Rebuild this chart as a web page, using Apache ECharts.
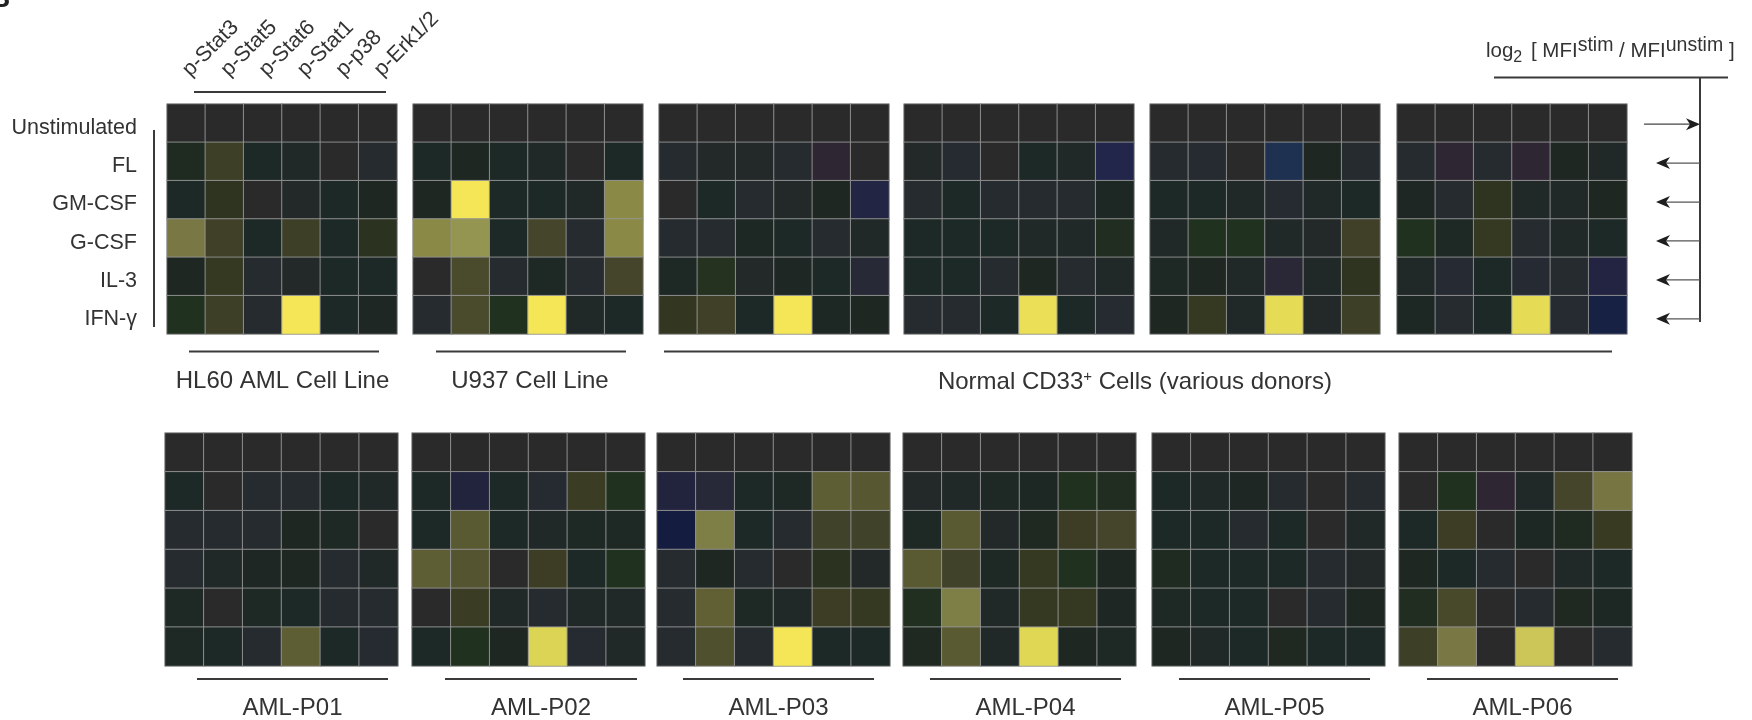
<!DOCTYPE html>
<html>
<head>
<meta charset="utf-8">
<script src="https://cdn.jsdelivr.net/npm/echarts@6/dist/echarts.min.js"></script>
<style>
  html, body { margin: 0; padding: 0; background: #ffffff; }
  #chart { width: 1752px; height: 720px; }
</style>
</head>
<body>
<div id="chart"></div>
<script>
// Phospho-protein readouts (columns) and stimulation conditions (rows)
const phosphoproteins = ['p-Stat3', 'p-Stat5', 'p-Stat6', 'p-Stat1', 'p-p38', 'p-Erk1/2'];
const stimuli = ['Unstimulated', 'FL', 'GM-CSF', 'G-CSF', 'IL-3', 'IFN-\u03b3'];

// log2 [MFI stim / MFI unstim], one row per stimulus, one column per readout
const hl60 = [
  [0, 0, 0, 0, 0, 0],
  [0.6, 1.35, 0.25, 0.2, 0, -0.25],
  [0.25, 1.0, 0, 0.15, 0.25, 0.5],
  [2.65, 1.4, 0.3, 1.35, 0.25, 0.95],
  [0.5, 1.15, -0.25, 0.15, 0.25, 0.25],
  [0.75, 1.35, -0.25, 4.0, 0.25, 0.45]
];
const u937 = [
  [0, 0, 0, 0, 0, 0],
  [0.25, 0.5, 0.25, 0.2, 0, 0.3],
  [0.5, 4.0, 0.25, 0.3, 0.2, 3.0],
  [3.0, 3.25, 0.25, 1.55, -0.25, 3.0],
  [0, 1.7, -0.25, 0.4, -0.25, 1.55],
  [-0.25, 1.7, 0.75, 4.0, 0.2, 0.3]
];
const normalDonor1 = [
  [0, 0, 0, 0, 0, 0],
  [-0.25, 0.15, 0.15, -0.25, -0.75, 0],
  [0, 0.25, -0.25, 0.15, 0.5, -1.15],
  [-0.25, -0.25, 0.35, 0.25, -0.25, 0.2],
  [0.4, 0.8, 0.15, 0.45, 0.25, -0.45],
  [1.1, 1.4, 0.25, 4.0, 0.35, 0.5]
];
const normalDonor2 = [
  [0, 0, 0, 0, 0, 0],
  [0.15, -0.3, 0, 0.25, 0.2, -1.25],
  [-0.25, 0.25, -0.25, -0.25, -0.25, 0.35],
  [0.3, 0.25, 0.3, 0.2, 0.2, 0.65],
  [0.3, 0.25, -0.25, 0.5, -0.25, 0.2],
  [-0.25, -0.25, 0.25, 3.9, 0.3, -0.3]
];
const normalDonor3 = [
  [0, 0, 0, 0, 0, 0],
  [-0.25, -0.3, 0, -1.5, 0.5, -0.25],
  [0.25, 0.25, 0.2, -0.3, 0.2, 0.3],
  [0.2, 0.75, 0.75, 0.2, 0.15, 1.4],
  [0.4, 0.5, 0.2, -0.6, 0.2, 1.0],
  [0.5, 1.15, 0.2, 3.85, 0.15, 1.35]
];
const normalDonor4 = [
  [0, 0, 0, 0, 0, 0],
  [-0.25, -0.75, -0.25, -0.75, 0.5, 0.2],
  [0.45, -0.25, 1.0, 0.2, 0.2, 0.5],
  [0.75, 0.4, 1.15, -0.25, 0.2, 0.25],
  [0.2, -0.35, 0.25, -0.35, -0.25, -1.1],
  [0.35, -0.25, 0.25, 3.85, -0.3, -1.9]
];
const amlP01 = [
  [0, 0, 0, 0, 0, 0],
  [0.25, 0, -0.25, -0.25, 0.25, 0.2],
  [-0.25, -0.25, -0.25, 0.5, 0.4, 0],
  [-0.25, 0.2, 0.45, 0.5, -0.25, 0.2],
  [0.4, 0, 0.4, 0.25, -0.25, -0.25],
  [0.4, 0.25, -0.25, 2.1, 0.3, -0.3]
];
const amlP02 = [
  [0, 0, 0, 0, 0, 0],
  [0.3, -1.0, 0.25, -0.3, 1.25, 0.75],
  [0.3, 2.0, 0.3, 0.2, 0.4, 0.4],
  [2.1, 1.9, 0, 1.3, 0.25, 0.75],
  [0, 1.25, 0.2, -0.25, 0.2, 0.2],
  [0.3, 0.75, 0.5, 3.75, -0.3, 0.2]
];
const amlP03 = [
  [0, 0, 0, 0, 0, 0],
  [-1.0, -0.5, 0.25, 0.4, 2.1, 1.95],
  [-2.0, 2.75, 0.25, -0.25, 1.45, 1.45],
  [-0.25, 0.5, -0.25, 0, 0.95, 0.15],
  [-0.25, 2.15, 0.4, 0.2, 1.3, 1.15],
  [-0.25, 1.8, -0.25, 4.0, 0.25, 0.25]
];
const amlP04 = [
  [0, 0, 0, 0, 0, 0],
  [0.15, 0.2, 0.4, 0.35, 0.75, 0.65],
  [0.4, 2.0, 0.15, 0.55, 1.3, 1.55],
  [2.0, 1.45, 0.4, 1.15, 0.75, 0.5],
  [0.7, 2.75, 0.2, 1.15, 1.15, 0.45],
  [0.55, 2.0, 0.2, 3.8, 0.5, 0.4]
];
const amlP05 = [
  [0, 0, 0, 0, 0, 0],
  [0.3, 0.2, 0.45, -0.25, 0, -0.25],
  [0.3, 0.3, -0.25, 0.3, 0, 0.2],
  [0.6, 0.3, 0.25, 0.25, -0.25, 0.15],
  [0.4, 0.3, 0.25, 0, -0.25, 0.5],
  [0.5, 0.2, 0.3, 0.55, 0.3, 0.25]
];
const amlP06 = [
  [0, 0, 0, 0, 0, 0],
  [0, 0.75, -0.75, 0.2, 1.55, 2.6],
  [0.3, 1.3, 0, 0.35, 0.6, 1.2],
  [0.5, 0.25, -0.25, 0, 0.2, 0.3],
  [0.65, 1.65, 0, -0.25, 0.55, 0.35],
  [1.35, 2.65, 0, 3.6, 0, -0.25]
];

const topRowPanels = [hl60, u937, normalDonor1, normalDonor2, normalDonor3, normalDonor4];
const bottomRowPanels = [amlP01, amlP02, amlP03, amlP04, amlP05, amlP06];
const topGroupLabels = ['HL60 AML Cell Line', 'U937 Cell Line', 'Normal CD33{sup|+} Cells (various donors)'];
const patientLabels = ['AML-P01', 'AML-P02', 'AML-P03', 'AML-P04', 'AML-P05', 'AML-P06'];

// ---- layout ----
const FONT = '"Liberation Sans", Arial, Helvetica, sans-serif';
const INK = '#333333';
const topLefts = [167, 413, 659, 904, 1150, 1397];
const topY = 104, topSize = 230;
const botLefts = [165, 412, 657, 903, 1152, 1399];
const botY = 433, botSize = 233;

// diverging palette sampled every 0.25 log2 units from -2 to +4
const palette = [
  '#141d40', '#192648', '#1f3150', '#22264a', '#22233c', '#2f2634', '#272838', '#262b2f',
  '#2a2a2a',
  '#1d2927', '#1e2722', '#21311f', '#2e3420', '#3a3c23', '#42432a', '#4c4d2c', '#5a5a32',
  '#656437', '#72703f', '#7e7e47', '#8a8a46', '#949550', '#c0bc58', '#dbd455', '#f4e656'
];

const panels = topRowPanels.concat(bottomRowPanels);
const grids = [], xAxes = [], yAxes = [], series = [];

panels.forEach(function (panel, i) {
  const isTop = i < 6;
  const k = i % 6;
  grids.push({
    left: isTop ? topLefts[k] : botLefts[k],
    top: isTop ? topY : botY,
    width: isTop ? topSize : botSize,
    height: isTop ? topSize : botSize,
    outerBoundsMode: 'none',
    containLabel: false
  });
  const showLabels = i === 0;
  xAxes.push({
    type: 'category', gridIndex: i, data: phosphoproteins, position: 'top',
    axisLine: { show: false }, axisTick: { show: false }, splitLine: { show: false },
    axisLabel: {
      show: showLabels, interval: 0, rotate: -45, margin: 31,
      align: 'left', verticalAlign: 'middle',
      fontSize: 21.5, fontFamily: FONT, color: INK
    }
  });
  yAxes.push({
    type: 'category', gridIndex: i, data: stimuli, inverse: true,
    axisLine: { show: false }, axisTick: { show: false }, splitLine: { show: false },
    axisLabel: {
      show: showLabels, interval: 0, margin: 30,
      formatter: function (v) { return '{r|' + v + '}'; },
      rich: { r: { fontSize: 21.5, fontFamily: FONT, color: INK, padding: [9, 0, 0, 0] } }
    }
  });
  const data = [];
  panel.forEach(function (row, r) {
    row.forEach(function (v, c) { data.push([c, r, v]); });
  });
  series.push({
    type: 'heatmap', xAxisIndex: i, yAxisIndex: i, data: data,
    itemStyle: { borderColor: 'rgba(150,150,150,0.9)', borderWidth: 1 },
    emphasis: { disabled: true }, progressive: 0, silent: true
  });
});

// ---- annotation graphics ----
const g = [];
function hline(x1, x2, y, w) {
  g.push({ type: 'line', shape: { x1: x1, y1: y, x2: x2, y2: y }, style: { stroke: '#3a3a3a', lineWidth: w || 2 }, silent: true });
}
function vline(x, y1, y2, w) {
  g.push({ type: 'line', shape: { x1: x, y1: y1, x2: x, y2: y2 }, style: { stroke: '#3a3a3a', lineWidth: w || 2 }, silent: true });
}
function label(text, cx, cy, size) {
  g.push({
    type: 'text', x: cx, y: cy, silent: true,
    style: {
      text: text, fill: INK, font: (size || 24) + 'px ' + FONT, align: 'center', verticalAlign: 'middle',
      rich: { sup: { fontSize: 15, fontFamily: FONT, fill: INK, verticalAlign: 'top', padding: [0, 0, 10, 0] } }
    }
  });
}

// corner panel letter (cropped)
g.push({ type: 'text', x: -10, y: -15, silent: true,
  style: { text: 'B', fill: '#222', font: 'bold 28px ' + FONT, align: 'left', verticalAlign: 'top' } });

// bracket over the readouts and beside the stimuli
hline(194, 386, 92);
vline(154, 130, 327);

// group underlines and captions, top row
hline(189, 379, 351.5);
hline(436, 626, 351.5);
hline(664, 1612, 351.5);
label(topGroupLabels[0], 282.5, 381);
label(topGroupLabels[1], 530, 381);
label(topGroupLabels[2], 1135, 382);

// patient underlines and captions, bottom row
const botLines = [[197, 388], [445, 637], [683, 874], [930, 1121], [1179, 1370], [1427, 1618]];
botLines.forEach(function (ln, k) {
  hline(ln[0], ln[1], 679);
  label(patientLabels[k], (ln[0] + ln[1]) / 2, 708);
});

// colour-scale key: title, rule, and arrows
g.push({
  type: 'text', x: 1486, y: 36, silent: true,
  style: {
    text: '{a|log}{s|2}{a| [ MFI}{p|stim}{a| / MFI}{p|unstim}{a| ]}',
    rich: {
      a: { fontSize: 20.5, fontFamily: FONT, fill: INK, lineHeight: 30, verticalAlign: 'middle' },
      s: { fontSize: 16, fontFamily: FONT, fill: INK, verticalAlign: 'bottom', padding: [0, 3, 0, 0] },
      p: { fontSize: 19.5, fontFamily: FONT, fill: INK, verticalAlign: 'top' }
    }
  }
});
hline(1494, 1728, 77.5);
vline(1700, 77, 322);

const chart = echarts.init(document.getElementById('chart'), null, { renderer: 'canvas' });
chart.setOption({
  animation: false,
  backgroundColor: '#ffffff',
  textStyle: { fontFamily: FONT },
  grid: grids,
  xAxis: xAxes,
  yAxis: yAxes,
  visualMap: {
    type: 'continuous', show: false, min: -2, max: 4,
    inRange: { color: palette }
  },
  series: series,
  graphic: g
});

// arrows of the key, aligned with the stimulus rows of the last top-row panel
const arrowGraphics = [];
stimuli.forEach(function (name, r) {
  const y = chart.convertToPixel({ yAxisIndex: 5 }, name) + 1 + r * 0.6;
  if (r === 0) {
    arrowGraphics.push({ type: 'line', shape: { x1: 1644, y1: y, x2: 1690, y2: y }, style: { stroke: '#444', lineWidth: 1.2 }, silent: true });
    arrowGraphics.push({ type: 'polygon', shape: { points: [[1700, y], [1686, y - 6], [1690, y], [1686, y + 6]] }, style: { fill: '#1e1e1e' }, silent: true });
  } else {
    arrowGraphics.push({ type: 'line', shape: { x1: 1666, y1: y, x2: 1700, y2: y }, style: { stroke: '#555', lineWidth: 1.2 }, silent: true });
    arrowGraphics.push({ type: 'polygon', shape: { points: [[1656, y], [1670, y - 6], [1666, y], [1670, y + 6]] }, style: { fill: '#1e1e1e' }, silent: true });
  }
});
chart.setOption({ graphic: g.concat(arrowGraphics) });
</script>
</body>
</html>
